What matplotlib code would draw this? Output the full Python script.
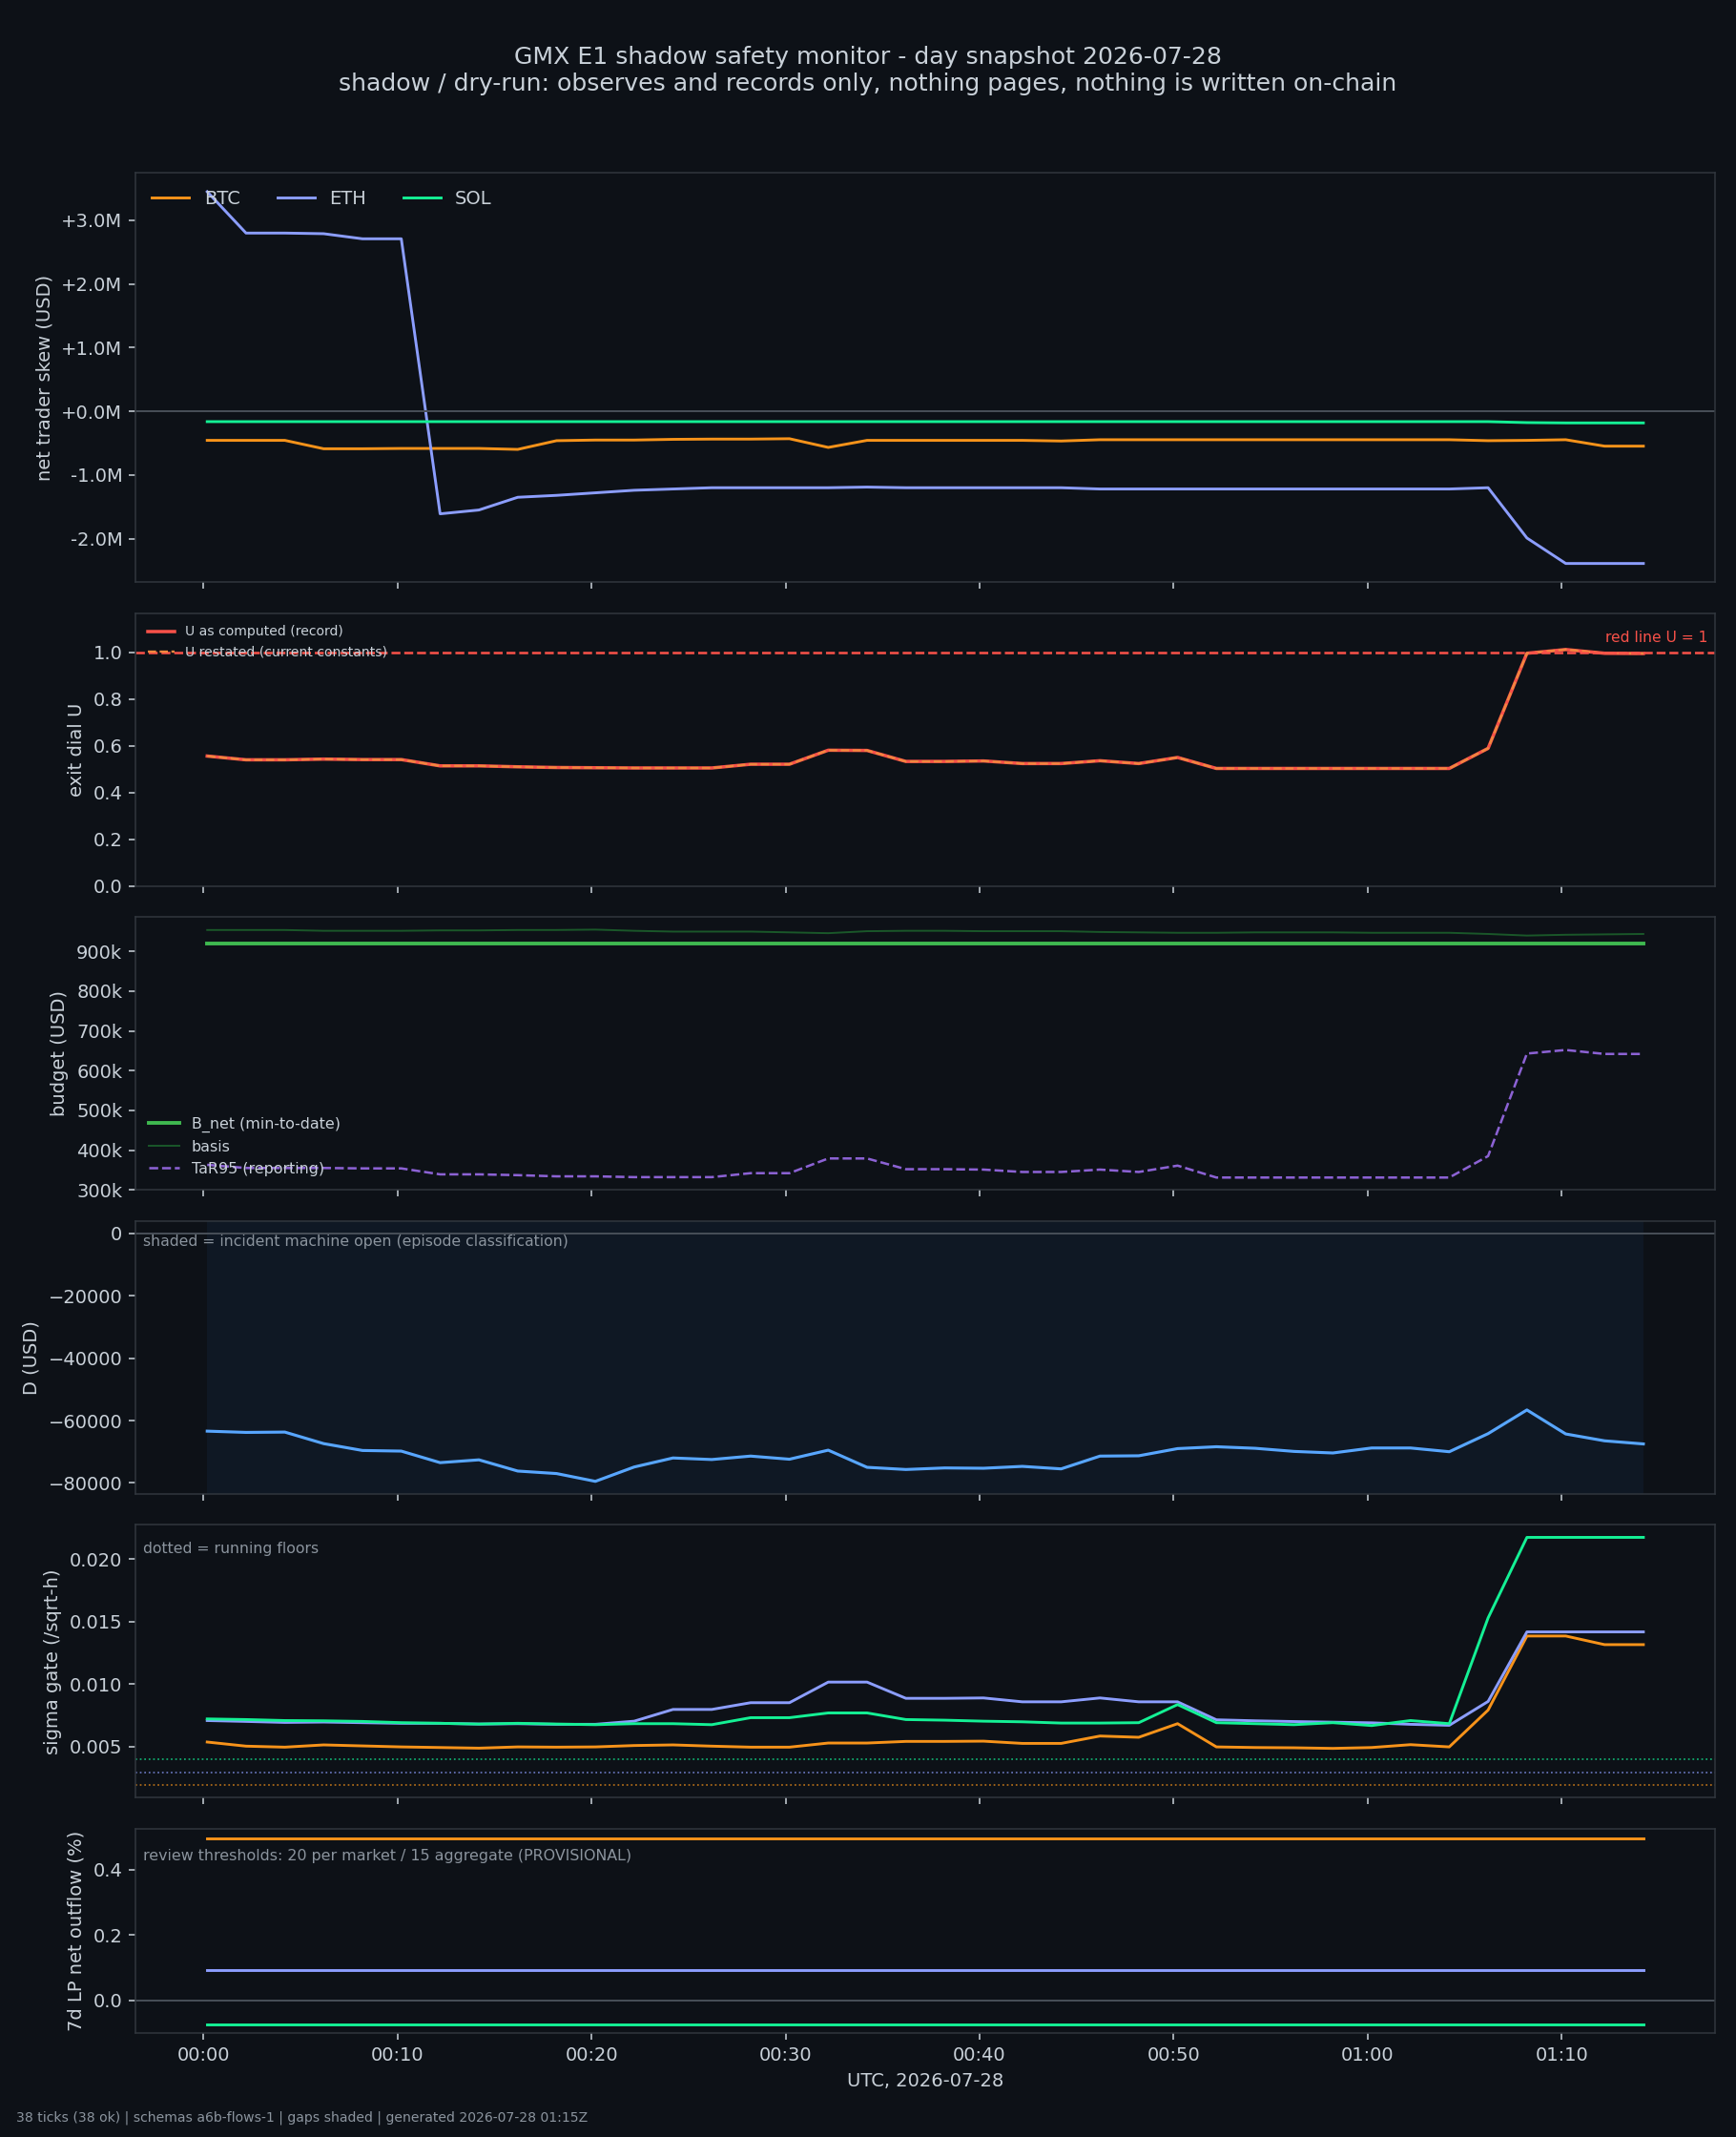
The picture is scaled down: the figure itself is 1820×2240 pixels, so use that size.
import numpy as np
import pandas as pd
import matplotlib
matplotlib.use("Agg")
import matplotlib.pyplot as plt
import matplotlib.dates as mdates
import matplotlib.transforms as mtransforms
from matplotlib.ticker import FuncFormatter

# ---- data (38 ticks, 2 min cadence) ----
ticks = pd.date_range("2026-07-28 00:00:12", periods=38, freq="2min")

skew_btc = np.array([-0.456, -0.456, -0.456, -0.588, -0.588, -0.583, -0.583, -0.583, -0.598, -0.461,
                     -0.451, -0.451, -0.440, -0.436, -0.436, -0.430, -0.567, -0.456, -0.456, -0.456,
                     -0.456, -0.456, -0.466, -0.446, -0.446, -0.446, -0.446, -0.446, -0.446, -0.446,
                     -0.446, -0.446, -0.446, -0.461, -0.456, -0.446, -0.547, -0.547]) * 1e6
skew_eth = np.array([3.45, 2.80, 2.80, 2.79, 2.71, 2.71, -1.61, -1.55, -1.35, -1.32,
                     -1.28, -1.24, -1.22, -1.20, -1.20, -1.20, -1.20, -1.19, -1.20, -1.20,
                     -1.20, -1.20, -1.20, -1.22, -1.22, -1.22, -1.22, -1.22, -1.22, -1.22,
                     -1.22, -1.22, -1.22, -1.20, -1.99, -2.39, -2.39, -2.39]) * 1e6
skew_sol = np.array([-0.162] * 34 + [-0.177, -0.182, -0.182, -0.182]) * 1e6

u_record = [0.556, 0.540, 0.540, 0.543, 0.541, 0.541, 0.514, 0.514, 0.510, 0.507,
            0.506, 0.505, 0.505, 0.505, 0.521, 0.521, 0.581, 0.580, 0.533, 0.533,
            0.535, 0.524, 0.524, 0.536, 0.524, 0.550, 0.503, 0.503, 0.503, 0.503,
            0.503, 0.503, 0.503, 0.589, 0.996, 1.012, 0.996, 0.995]
u_restated = list(u_record)

b_net = [919000] * 38
basis = np.array([954, 954, 954, 952, 952, 952, 953, 953, 954, 954,
                  955, 952, 950, 950, 950, 948, 946, 951, 952, 952,
                  951, 951, 951, 949, 948, 947, 947, 948, 948, 948,
                  947, 947, 947, 944, 940, 942, 943, 944]) * 1e3
tar95 = np.array([363, 355, 355, 355, 354, 354, 339, 339, 337, 334,
                  334, 332, 332, 332, 342, 342, 379, 379, 352, 352,
                  351, 345, 345, 351, 345, 361, 331, 331, 331, 331,
                  331, 331, 331, 385, 643, 652, 642, 642]) * 1e3

d_usd = np.array([-63.4, -63.8, -63.7, -67.4, -69.6, -69.8, -73.5, -72.6, -76.2, -77.0,
                  -79.5, -74.9, -72.0, -72.5, -71.4, -72.4, -69.5, -75.0, -75.7, -75.2,
                  -75.3, -74.7, -75.5, -71.4, -71.3, -69.0, -68.4, -68.9, -69.9, -70.4,
                  -68.8, -68.8, -70.0, -64.2, -56.6, -64.3, -66.5, -67.5]) * 1e3

sig_btc = [0.00536, 0.00503, 0.00495, 0.00513, 0.00505, 0.00497, 0.00492, 0.00487, 0.00497, 0.00495,
           0.00497, 0.00508, 0.00513, 0.00503, 0.00495, 0.00495, 0.00528, 0.00528, 0.00541, 0.00541,
           0.00543, 0.00525, 0.00525, 0.00584, 0.00574, 0.00683, 0.00497, 0.00492, 0.00490, 0.00485,
           0.00492, 0.00515, 0.00497, 0.00792, 0.01385, 0.01385, 0.01316, 0.01316]
sig_eth = [0.00708, 0.00701, 0.00693, 0.00696, 0.00691, 0.00686, 0.00686, 0.00680, 0.00683, 0.00678,
           0.00678, 0.00703, 0.00797, 0.00797, 0.00851, 0.00851, 0.01016, 0.01016, 0.00886, 0.00886,
           0.00889, 0.00858, 0.00858, 0.00889, 0.00858, 0.00858, 0.00714, 0.00706, 0.00700, 0.00695,
           0.00690, 0.00678, 0.00670, 0.00861, 0.01418, 0.01418, 0.01418, 0.01418]
sig_sol = [0.00721, 0.00716, 0.00708, 0.00706, 0.00701, 0.00691, 0.00686, 0.00680, 0.00686, 0.00680,
           0.00675, 0.00683, 0.00683, 0.00675, 0.00731, 0.00731, 0.00769, 0.00769, 0.00716, 0.00711,
           0.00703, 0.00698, 0.00688, 0.00688, 0.00691, 0.00836, 0.00691, 0.00683, 0.00675, 0.00691,
           0.00668, 0.00708, 0.00683, 0.01530, 0.02175, 0.02175, 0.02175, 0.02175]
sig_floor = {"BTC": 0.0019, "ETH": 0.0029, "SOL": 0.00396}

lp_btc = [0.497] * 38
lp_eth = [0.094] * 38
lp_sol = [-0.072] * 38

markets = ["BTC", "ETH", "SOL"]
colors = {"BTC": "#f7931a", "ETH": "#8c9eff", "SOL": "#14f195"}

# ---- style ----
BG = "#0d1117"
FG = "#c9d1d9"
MUTED = "#8b949e"
plt.rcParams.update({
    "figure.facecolor": BG,
    "axes.facecolor": BG,
    "axes.edgecolor": "#30363d",
    "axes.labelcolor": FG,
    "text.color": FG,
    "xtick.color": FG,
    "ytick.color": FG,
    "font.size": 10,
    "legend.frameon": False,
})

fig, axes = plt.subplots(6, 1, figsize=(13, 16), dpi=140, sharex=True,
                         gridspec_kw=dict(height_ratios=[6, 4, 4, 4, 4, 3], hspace=0.11,
                                          left=0.078, right=0.988, top=0.919, bottom=0.0485))
ax1, ax2, ax3, ax4, ax5, ax6 = axes

fig.text(0.5, 0.967, "GMX E1 shadow safety monitor - day snapshot 2026-07-28\n"
         "shadow / dry-run: observes and records only, nothing pages, nothing is written on-chain",
         ha="center", va="center", fontsize=12.9, color=FG)

# 1. skew
for m, s in zip(markets, [skew_btc, skew_eth, skew_sol]):
    ax1.plot(ticks, s, color=colors[m], lw=1.5, label=m)
ax1.axhline(0, color="#484f58", lw=1)
ax1.yaxis.set_major_formatter(FuncFormatter(lambda v, p: f"{v / 1e6:+.1f}M"))
ax1.set_ylabel("net trader skew (USD)")
ax1.legend(loc="upper left", ncol=3, fontsize=10)

# 2. exit dial
ax2.plot(ticks, u_record, color="#f85149", lw=1.8, label="U as computed (record)")
ax2.plot(ticks, u_restated, color="#f0883e", lw=1.2, ls="--", label="U restated (current constants)")
ax2.axhline(1.0, color="#f85149", lw=1.3, ls="--")
trans = mtransforms.blended_transform_factory(ax2.transAxes, ax2.transData)
ax2.text(0.995, 1.03, "red line U = 1", transform=trans, ha="right", va="bottom",
         fontsize=8, color="#f85149")
ax2.set_ylim(0, 1.167)
ax2.set_ylabel("exit dial U")
ax2.legend(loc="upper left", fontsize=7.2)

# 3. budget
ax3.plot(ticks, b_net, color="#3fb950", lw=2, label="B_net (min-to-date)")
ax3.plot(ticks, basis, color="#238636", lw=1, alpha=0.6, label="basis")
ax3.plot(ticks, tar95, color="#a371f7", lw=1.3, ls="--", alpha=0.85, label="TaR95 (reporting)")
ax3.set_ylim(bottom=300000)
ax3.yaxis.set_major_formatter(FuncFormatter(lambda v, p: f"{v / 1e3:.0f}k"))
ax3.set_ylabel("budget (USD)")
ax3.legend(loc="lower left", fontsize=8.2, labelspacing=0.5)

# 4. D
ax4.axvspan(ticks[0], ticks[-1], color="#388bfd", alpha=0.06, lw=0)
ax4.plot(ticks, d_usd, color="#58a6ff", lw=1.6)
ax4.axhline(0, color="#484f58", lw=1)
ax4.set_ylabel("D (USD)")
ax4.text(0.005, 0.95, "shaded = incident machine open (episode classification)",
         transform=ax4.transAxes, ha="left", va="top", fontsize=8.1, color=MUTED)

# 5. sigma gate
for m, s in zip(markets, [sig_btc, sig_eth, sig_sol]):
    ax5.plot(ticks, s, color=colors[m], lw=1.5)
    ax5.axhline(sig_floor[m], color=colors[m], lw=0.9, ls=":", alpha=0.7)
ax5.set_ylabel("sigma gate (/sqrt-h)")
ax5.text(0.005, 0.94, "dotted = running floors", transform=ax5.transAxes,
         ha="left", va="top", fontsize=8.1, color=MUTED)

# 6. LP outflow
for m, s in zip(markets, [lp_btc, lp_eth, lp_sol]):
    ax6.plot(ticks, s, color=colors[m], lw=1.5)
ax6.axhline(0, color="#484f58", lw=1)
ax6.set_ylabel("7d LP net outflow (%)")
ax6.text(0.005, 0.9, "review thresholds: 20 per market / 15 aggregate (PROVISIONAL)",
         transform=ax6.transAxes, ha="left", va="top", fontsize=8.2, color=MUTED)

ax6.xaxis.set_major_locator(mdates.MinuteLocator(byminute=range(0, 60, 10)))
ax6.xaxis.set_major_formatter(mdates.DateFormatter("%H:%M"))
ax6.set_xlabel("UTC, 2026-07-28")

fig.text(0.0094, 0.006, "38 ticks (38 ok) | schemas a6b-flows-1 | gaps shaded | generated 2026-07-28 01:15Z",
         ha="left", va="bottom", fontsize=7.2, color=MUTED)

fig.savefig("out.png", dpi=140, facecolor=BG)
